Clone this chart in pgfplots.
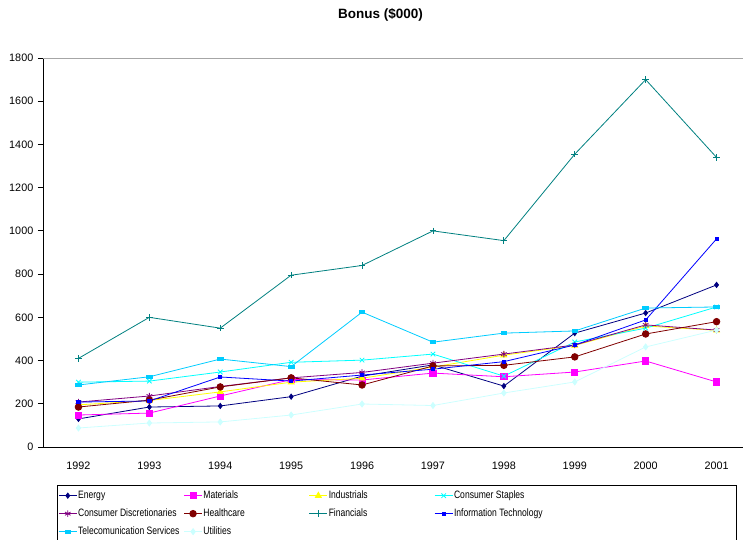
\documentclass[border=0pt]{standalone}
\usepackage{graphicx}
\usepackage{pgfplots}
\pgfplotsset{compat=1.18}
\usepackage{pgfplotstable}
\usepackage{fontspec}
\setmainfont{Liberation Sans}

% Bonus by sector, 1992--2001 (index 0 = 1992)
\pgfplotstableread{
x Energy Materials Industrials Staples Discret Health Financials IT Telecom Utilities
0 130 148 195 300 208 185  410 208 287  88
1 185 157 215 305 236 217  600 213 325 111
2 190 236 255 347 280 278  550 324 407 116
3 233 312 300 392 320 320  795 305 372 148
4 328 310 318 402 345 287  840 333 624 199
5 380 342 370 430 388 375 1000 360 485 192
6 282 325 425 328 430 378  955 395 527 250
7 527 347 470 486 472 417 1355 472 537 301
8 620 398 560 550 565 523 1700 588 643 463
9 750 301 540 648 541 580 1340 963 648 541
}\bonus

\definecolor{cEnergy}{HTML}{000080}
\definecolor{cMaterials}{HTML}{FF00FF}
\definecolor{cIndustrials}{HTML}{FFFF00}
\definecolor{cStaples}{HTML}{00FFFF}
\definecolor{cDiscret}{HTML}{800080}
\definecolor{cHealth}{HTML}{800000}
\definecolor{cFinancials}{HTML}{008080}
\definecolor{cIT}{HTML}{0000FF}
\definecolor{cTelecom}{HTML}{00CCFF}
\definecolor{cUtilities}{HTML}{CCFFFF}

% legend text: condensed, in fixed-width columns
\newcommand{\entry}[2][104.5pt]{\makebox[#1][l]{\scalebox{0.8}[1]{#2}}}

\begin{document}
\begin{tikzpicture}[x=1pt,y=1pt]
\begin{axis}[
  at={(43pt,92pt)}, anchor=south west,
  scale only axis, width=709pt, height=389pt,
  xmin=-0.5, xmax=9.5, ymin=0, ymax=1800,
  axis lines*=left,
  axis line style={black, line width=0.9pt},
  xtick={0,...,9},
  xticklabels={1992,1993,1994,1995,1996,1997,1998,1999,2000,2001},
  major x tick style={draw=none},
  extra x ticks={-0.5,0.5,...,9.5},
  extra x tick labels={},
  extra x tick style={major tick length=4pt, tick style={black, line width=0.8pt}},
  ytick={0,200,...,1800},
  tick align=outside,
  major tick length=5pt,
  y tick style={black, line width=0.8pt},
  tick label style={font=\fontsize{10.8}{12}\selectfont},
  xticklabel style={yshift=-6pt},
  yticklabel style={xshift=-1pt},
  /pgf/number format/assume math mode=true,
  /pgf/number format/1000 sep={},
  clip=false,
  line width=0.8pt,
  legend image code/.code={%
    \draw[mark repeat=2,mark phase=2] plot coordinates {(0pt,0pt) (9pt,0pt) (18pt,0pt)};},
  legend columns=4,
  legend cell align=left,
  legend style={
    at={(axis description cs:0.0197,-0.0977)}, anchor=north west,
    draw=black, line width=0.8pt,
    font=\fontsize{10.7}{12}\selectfont,
    inner xsep=1pt, inner ysep=4pt,
    row sep=5.5pt,
    nodes={inner sep=1pt, text height=8pt, text depth=2.5pt},
    /tikz/every even column/.append style={column sep=0pt},
  },
]
% top border of the plot area
\draw[gray!70, line width=0.8pt] (axis cs:-0.5,1800) -- (axis cs:9.5,1800);

\addplot[color=cEnergy, mark=diamond*, mark size=2.6pt] table[x=x,y=Energy]{\bonus};
\addlegendentry{\entry{Energy}}
\addplot[color=cMaterials, mark=square*, mark size=3.1pt] table[x=x,y=Materials]{\bonus};
\addlegendentry{\entry{Materials}}
\addplot[color=cIndustrials, mark=triangle*, mark size=3.4pt] table[x=x,y=Industrials]{\bonus};
\addlegendentry{\entry{Industrials}}
\addplot[color=cStaples, mark=x, mark size=3.2pt] table[x=x,y=Staples]{\bonus};
\addlegendentry{\entry[280pt]{Consumer Staples}}
\addplot[color=cDiscret, mark=asterisk, mark size=3.2pt] table[x=x,y=Discret]{\bonus};
\addlegendentry{\entry{Consumer Discretionaries}}
\addplot[color=cHealth, mark=*, mark size=3.3pt] table[x=x,y=Health]{\bonus};
\addlegendentry{\entry{Healthcare}}
\addplot[color=cFinancials, mark=+, mark size=3.3pt] table[x=x,y=Financials]{\bonus};
\addlegendentry{\entry{Financials}}
\addplot[color=cIT, mark=square*, mark size=1.6pt] table[x=x,y=IT]{\bonus};
\addlegendentry{\entry[280pt]{Information Technology}}
\addplot[color=cTelecom, mark=square*, mark size=2.8pt, mark options={yscale=0.5}] table[x=x,y=Telecom]{\bonus};
\addlegendentry{\entry{Telecomunication Services}}
\addplot[color=cUtilities, mark=diamond*, mark size=3pt] table[x=x,y=Utilities]{\bonus};
\addlegendentry{\entry{Utilities}}

\node[font=\bfseries\fontsize{13.5}{15}\selectfont] at (axis description cs:0.476,1.1105) {Bonus (\$000)};
\end{axis}
\pgfresetboundingbox
\useasboundingbox (0,0) rectangle (743,539);
\end{tikzpicture}
\end{document}
